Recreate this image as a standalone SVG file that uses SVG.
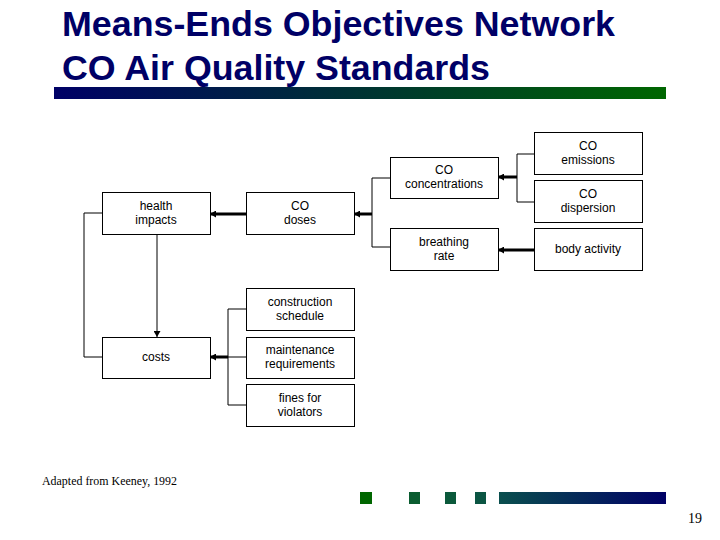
<svg xmlns="http://www.w3.org/2000/svg" width="720" height="540" viewBox="0 0 720 540">
<defs>
<linearGradient id="topbar" x1="0" y1="0" x2="1" y2="0">
<stop offset="0" stop-color="#000066"/>
<stop offset="1" stop-color="#006600"/>
</linearGradient>
<linearGradient id="botbar" x1="0" y1="0" x2="1" y2="0">
<stop offset="0" stop-color="#0a4f4e"/>
<stop offset="1" stop-color="#000066"/>
</linearGradient>
<marker id="ah" viewBox="0 0 6 7" refX="6" refY="3.5" markerWidth="6" markerHeight="7" markerUnits="userSpaceOnUse" orient="auto">
<path d="M0,0 L6,3.5 L0,7 z" fill="#000"/>
</marker>
</defs>
<style>
.title{font-family:"Liberation Sans",Arial,sans-serif;font-weight:bold;font-size:35.5px;fill:#000066}
.box{fill:#fff;stroke:#000;stroke-width:1}
.lbl{font-family:"Liberation Sans",Arial,sans-serif;font-size:12px;fill:#000;text-anchor:middle}
.thin{fill:none;stroke:#000;stroke-width:1}
.thick{fill:none;stroke:#000;stroke-width:3}
.foot{font-family:"Liberation Serif","Times New Roman",serif;fill:#000}
</style>
<rect width="720" height="540" fill="#fff"/>
<text class="title" x="62" y="36" textLength="553" lengthAdjust="spacingAndGlyphs">Means-Ends Objectives Network</text>
<text class="title" x="62" y="80" textLength="428" lengthAdjust="spacingAndGlyphs">CO Air Quality Standards</text>
<rect x="54" y="87" width="612" height="12" fill="url(#topbar)"/>

<g id="connectors">
<path class="thin" d="M102,213 H84 V357 H102"/>
<path class="thin" d="M157,234 V337" marker-end="url(#ah)"/>
<path class="thick" d="M246,214 H210" marker-end="url(#ah)"/>
<path class="thin" d="M390,178 H372 V247 H390"/>
<path class="thick" d="M372,214 H354" marker-end="url(#ah)"/>
<path class="thin" d="M534,154 H517 V202 H534"/>
<path class="thick" d="M517,177 H498" marker-end="url(#ah)"/>
<path class="thick" d="M534,250 H498" marker-end="url(#ah)"/>
<path class="thin" d="M246,309 H228 V405 H246 M228,357 H246"/>
<path class="thick" d="M228,357 H210" marker-end="url(#ah)"/>
</g>

<g id="health-impacts"><rect class="box" x="102.5" y="192.5" width="108" height="42"/><text class="lbl" x="156" y="210">health</text><text class="lbl" x="156" y="224">impacts</text></g>
<g id="co-doses"><rect class="box" x="246.5" y="192.5" width="108" height="42"/><text class="lbl" x="300" y="210">CO</text><text class="lbl" x="300" y="224">doses</text></g>
<g id="co-concentrations"><rect class="box" x="390.5" y="157.5" width="108" height="41"/><text class="lbl" x="444" y="174">CO</text><text class="lbl" x="444" y="188">concentrations</text></g>
<g id="breathing-rate"><rect class="box" x="390.5" y="228.5" width="108" height="42"/><text class="lbl" x="444" y="246">breathing</text><text class="lbl" x="444" y="260">rate</text></g>
<g id="co-emissions"><rect class="box" x="534.5" y="132.5" width="108" height="42"/><text class="lbl" x="588" y="150">CO</text><text class="lbl" x="588" y="164">emissions</text></g>
<g id="co-dispersion"><rect class="box" x="534.5" y="180.5" width="108" height="42"/><text class="lbl" x="588" y="198">CO</text><text class="lbl" x="588" y="212">dispersion</text></g>
<g id="body-activity"><rect class="box" x="534.5" y="228.5" width="108" height="42"/><text class="lbl" x="588" y="253">body activity</text></g>
<g id="costs"><rect class="box" x="102.5" y="337.5" width="108" height="41"/><text class="lbl" x="156" y="361">costs</text></g>
<g id="construction-schedule"><rect class="box" x="246.5" y="288.5" width="108" height="42"/><text class="lbl" x="300" y="306">construction</text><text class="lbl" x="300" y="320">schedule</text></g>
<g id="maintenance-requirements"><rect class="box" x="246.5" y="337.5" width="108" height="41"/><text class="lbl" x="300" y="354">maintenance</text><text class="lbl" x="300" y="368">requirements</text></g>
<g id="fines-for-violators"><rect class="box" x="246.5" y="384.5" width="108" height="42"/><text class="lbl" x="300" y="402">fines for</text><text class="lbl" x="300" y="416">violators</text></g>

<text class="foot" x="42" y="485" font-size="12.5" textLength="135" lengthAdjust="spacingAndGlyphs">Adapted from Keeney, 1992</text>
<rect x="360" y="492" width="12" height="12" fill="#006600"/>
<rect x="409" y="492" width="11" height="12" fill="#0a5c30"/>
<rect x="445" y="492" width="11" height="12" fill="#0b593b"/>
<rect x="475" y="492" width="11" height="12" fill="#0b5543"/>
<rect x="499" y="492" width="167" height="12" fill="url(#botbar)"/>
<text class="foot" x="688" y="523" font-size="14">19</text>
</svg>
